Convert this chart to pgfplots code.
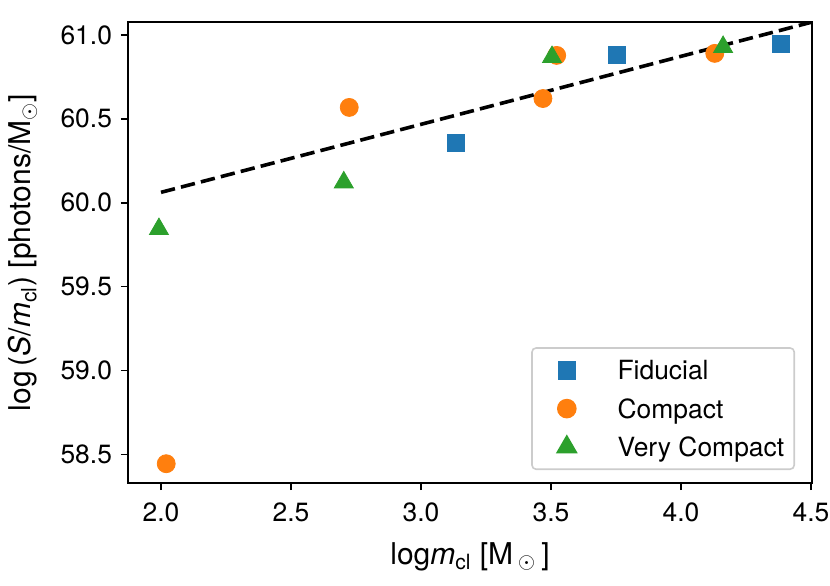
\documentclass[border=0pt]{standalone}
\usepackage{fontspec}
\setmainfont{TeX Gyre Heros}
\usepackage{pgfplots}
\pgfplotsset{compat=1.18}
\definecolor{mplblue}{HTML}{1F77B4}
\definecolor{mplorange}{HTML}{FF7F0E}
\definecolor{mplgreen}{HTML}{2CA02C}
\begin{document}
\begin{tikzpicture}
\path[use as bounding box] (-64pt,-51pt) rectangle (351pt,241.5pt);
\begin{axis}[
  scale only axis, width=342pt, height=230.5pt,
  xmin=1.873, xmax=4.504, ymin=58.33, ymax=61.077,
  xtick={2,2.5,3,3.5,4,4.5}, ytick={58.5,59,59.5,60,60.5,61},
  tick align=outside, tick pos=left, major tick length=3.5pt,
  axis line style={line width=0.8pt},
  every tick/.style={line width=0.8pt, black},
  /pgf/number format/assume math mode=true,
  ticklabel style={font=\fontsize{13.2}{15}\selectfont,
    /pgf/number format/fixed, /pgf/number format/fixed zerofill,
    /pgf/number format/precision=1},
  xticklabel style={yshift=-3pt},
  yticklabel style={xshift=-1pt},
  every axis x label/.style={at={(axis description cs:0.5,-0.1757)}, anchor=base,
    font=\fontsize{15}{18}\selectfont},
  every axis y label/.style={at={(axis description cs:-0.1419,0.5)}, rotate=90, anchor=base,
    font=\fontsize{15}{18}\selectfont},
  xlabel={log\textit{m}\textsubscript{cl} [M\,\textsubscript{$\odot$}\,]},
  ylabel={log\,(\textit{S}/\textit{m}\textsubscript{cl}) [photons/M\textsubscript{$\odot$}]},
  legend style={at={(1,0)}, anchor=south east, xshift=-8.5pt, yshift=6.5pt,
    draw=black!20, rounded corners=2pt, line width=0.8pt,
    font=\fontsize{13.2}{15}\selectfont, row sep=0pt, column sep=0pt,
    inner xsep=5pt, inner ysep=1.5pt,
    nodes={inner sep=0pt, text height=9.5pt, text depth=0pt}},
  legend cell align=left,
  legend image code/.code={%
    \path (0pt,-9.2pt) (37pt,9.2pt);
    \draw[only marks] plot coordinates {(12pt,0pt)};},
]
\addplot[only marks, mark=square*, mark size=4.25pt, color=mplblue]
  coordinates {(3.134,60.359) (3.752,60.880) (4.385,60.944)};
\addlegendentry{Fiducial}
\addplot[only marks, mark=*, mark size=4.5pt, color=mplorange]
  coordinates {(2.02,58.445) (2.724,60.568) (3.469,60.621) (3.522,60.878) (4.130,60.890)};
\addlegendentry{Compact}
\addplot[black, line width=1.8pt, dash pattern=on 7.2pt off 3.1pt, forget plot]
  coordinates {(2.0,60.062) (4.5,61.075)};
\addplot[only marks, mark=triangle*, mark size=5.5pt, color=mplgreen]
  coordinates {(1.992,59.843) (2.703,60.121) (3.504,60.868) (4.162,60.928)};
\addlegendentry{Very Compact}
\end{axis}
\end{tikzpicture}
\end{document}
